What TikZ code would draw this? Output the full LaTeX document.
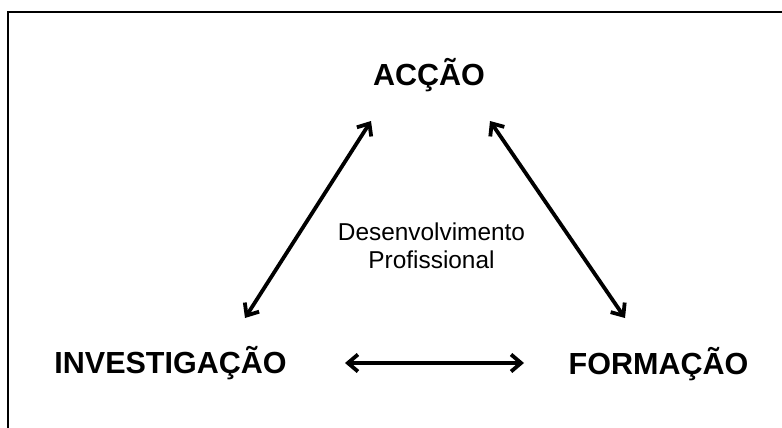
\documentclass[tikz,border=0pt]{standalone}
\usepackage{fontspec}
\setmainfont{Liberation Sans}
\usetikzlibrary{arrows.meta}
\begin{document}
\begin{tikzpicture}[x=1pt,y=-1pt,
  keyword/.style={inner sep=0pt,anchor=base,font=\fontsize{30.5}{34}\selectfont\bfseries},
  centrelabel/.style={inner sep=0pt,anchor=north,align=center,font=\fontsize{24.4}{28}\selectfont},
  link/.style={line width=3.8pt,{Straight Barb[length=10pt,width=17pt]}-{Straight Barb[length=10pt,width=17pt]}},
  frameline/.style={line width=2pt}]
\useasboundingbox (0,0) rectangle (782,428);
\fill[white] (0,0) rectangle (782,428);
\draw[frameline] (8.3,430) -- (8.3,12) -- (784,12);
\node[keyword] (accao) at (429,85) {ACÇÃO};
\node[keyword] (invest) at (170.5,373) {INVESTIGAÇÃO};
\node[keyword] (formacao) at (658.5,374) {FORMAÇÃO};
\node[centrelabel] (dp) at (431.5,223) {Desenvolvimento\\Profissional};
\coordinate (a1) at (371,121);
\coordinate (a2) at (490,121);
\coordinate (i1) at (245,318);
\coordinate (i2) at (345,363);
\coordinate (f1) at (625,318);
\coordinate (f2) at (524,363);
\draw[link] (i1) -- (a1);
\draw[link] (a2) -- (f1);
\draw[link] (i2) -- (f2);
\end{tikzpicture}
\end{document}
